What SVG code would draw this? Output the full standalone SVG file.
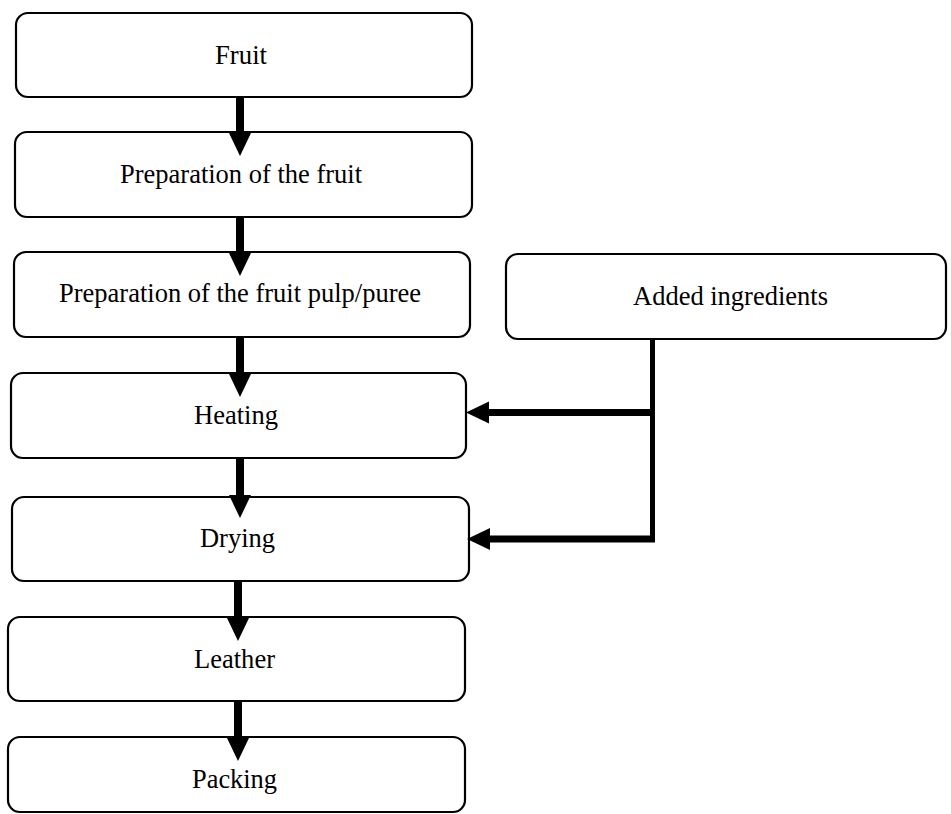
<svg xmlns="http://www.w3.org/2000/svg" width="951" height="814" viewBox="0 0 951 814">
<style>
.box{fill:#fff;stroke:#000;stroke-width:2.2}
.lbl{font-family:"Liberation Serif","Times New Roman",serif;font-size:26.5px;fill:#000;text-anchor:middle}
.v{stroke:#000;stroke-width:8;fill:none}
.h{stroke:#000;stroke-width:7;fill:none}
</style>
<defs>
<marker id="ah" markerUnits="userSpaceOnUse" markerWidth="24" markerHeight="24" viewBox="0 0 24 24" refX="10" refY="12" orient="auto">
<path d="M0,1 L23,12 L0,23 z" fill="#000"/>
</marker>
</defs>
<g id="n-fruit"><rect class="box" x="16" y="13" width="456" height="84" rx="12"/><text class="lbl" x="241" y="64" textLength="52" lengthAdjust="spacingAndGlyphs">Fruit</text></g>
<g id="n-prep"><rect class="box" x="15" y="132" width="457" height="85" rx="12"/><text class="lbl" x="241" y="183" textLength="242" lengthAdjust="spacingAndGlyphs">Preparation of the fruit</text></g>
<g id="n-pulp"><rect class="box" x="14" y="252" width="456" height="85" rx="12"/><text class="lbl" x="240" y="302" textLength="362" lengthAdjust="spacingAndGlyphs">Preparation of the fruit pulp/puree</text></g>
<g id="n-added"><rect class="box" x="506" y="254" width="440" height="85" rx="12"/><text class="lbl" x="730.5" y="305" textLength="195" lengthAdjust="spacingAndGlyphs">Added ingredients</text></g>
<g id="n-heating"><rect class="box" x="11" y="373" width="455" height="85" rx="12"/><text class="lbl" x="236" y="424" textLength="84" lengthAdjust="spacingAndGlyphs">Heating</text></g>
<g id="n-drying"><rect class="box" x="12" y="497" width="457" height="84" rx="12"/><text class="lbl" x="237.5" y="547" textLength="75" lengthAdjust="spacingAndGlyphs">Drying</text></g>
<g id="n-leather"><rect class="box" x="8" y="617" width="457" height="84" rx="12"/><text class="lbl" x="234.5" y="668" textLength="81" lengthAdjust="spacingAndGlyphs">Leather</text></g>
<g id="n-packing"><rect class="box" x="8" y="737" width="457" height="75" rx="12"/><text class="lbl" x="234.5" y="788" textLength="85" lengthAdjust="spacingAndGlyphs">Packing</text></g>
<g id="connectors">
<path class="v" d="M240,97 V143" marker-end="url(#ah)"/>
<path class="v" d="M240,217 V263" marker-end="url(#ah)"/>
<path class="v" d="M240,337 V384" marker-end="url(#ah)"/>
<path class="v" d="M240,458 V505" marker-end="url(#ah)"/>
<path class="v" d="M238,581 V628" marker-end="url(#ah)"/>
<path class="v" d="M238,701 V748" marker-end="url(#ah)"/>
<path d="M652.5,339 V542" stroke="#000" stroke-width="5" fill="none"/>
<path class="h" d="M655,412.5 H479" marker-end="url(#ah)"/>
<path class="h" d="M655,539 H480" marker-end="url(#ah)"/>
</g>
</svg>
